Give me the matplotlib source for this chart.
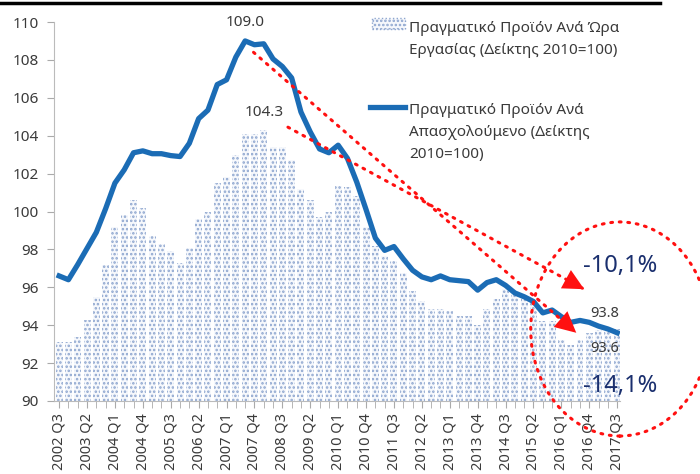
import numpy as np
import matplotlib
matplotlib.use("Agg")
import matplotlib.pyplot as plt
from matplotlib.patches import Rectangle, Ellipse
from matplotlib.lines import Line2D

plt.rcParams['font.family'] = ['Noto Sans', 'DejaVu Sans']

## quarters 2002 Q3 .. 2017 Q3
quarters = [f"{y} Q{q}" for y in range(2002, 2018) for q in range(1, 5)][2:63]

# Πραγματικό Προϊόν Ανά Ώρα Εργασίας (bars)
per_hour = [93.1, 93.1, 93.4, 94.3, 95.5, 97.2, 99.2, 99.8, 100.6, 100.2,
            98.7, 98.3, 97.9, 97.3, 98.1, 99.6, 100.0, 101.5, 101.8, 103.0,
            104.1, 104.1, 104.3, 103.4, 103.4, 102.7, 101.2, 100.6, 99.7, 100.0,
            101.35, 101.3, 100.8, 99.2, 98.2, 97.65, 97.4, 96.75, 95.8, 95.3,
            94.85, 94.85, 94.75, 94.5, 94.5, 94.0, 94.85, 95.4, 95.9, 95.7,
            95.5, 95.25, 94.2, 94.2, 93.2, 92.95, 93.2, 93.6, 93.75, 93.7, 93.8]
# Πραγματικό Προϊόν Ανά Απασχολούμενο (line)
per_employee = [96.6, 96.4, 97.2, 98.05, 98.9, 100.15, 101.5, 102.2, 103.1, 103.2,
                103.05, 103.05, 102.95, 102.9, 103.6, 104.9, 105.35, 106.7, 106.95, 108.15,
                109.0, 108.8, 108.85, 108.05, 107.65, 107.05, 105.25, 104.2, 103.3, 103.1,
                103.5, 102.8, 101.55, 100.1, 98.6, 97.95, 98.15, 97.5, 96.9, 96.55,
                96.4, 96.6, 96.4, 96.35, 96.3, 95.85, 96.25, 96.4, 96.1, 95.7,
                95.5, 95.25, 94.65, 94.8, 94.45, 94.15, 94.25, 94.15, 93.95, 93.8, 93.6]

bar_label = "Πραγματικό Προϊόν Ανά Ώρα\nΕργασίας (Δείκτης 2010=100)"
line_label = "Πραγματικό Προϊόν Ανά\nΑπασχολούμενο (Δείκτης\n2010=100)"

blue = '#1b6cb5'
dots = '#8ea6cf'
red = '#ff1010'
navy = '#1a2f6e'
txt = '#3a3a3a'

plt.rcParams['hatch.linewidth'] = 1.2

fig = plt.figure(figsize=(7, 4.74), dpi=100)
ax = fig.add_axes([54/700, 1-401/474, (620-54)/700, (401-22)/474])

x = np.arange(len(quarters))
ax.bar(x, np.array(per_hour) - 90, bottom=90, width=0.75, color='#f6f8fc',
       edgecolor=dots, hatch='....', linewidth=0)
ax.plot(x, per_employee, color=blue, lw=3.8, solid_joinstyle='round', zorder=3)

ax.set_ylim(90, 110)
ax.set_xlim(-0.55, 60.3)
ax.set_yticks(np.arange(90, 111, 2))
ax.set_xticks(x[::3])
ax.set_xticklabels(quarters[::3], rotation=90, fontsize=10.5, color=txt)
ax.set_xticks(x, minor=True)
ax.tick_params(axis='y', labelsize=11, colors='#aaaaaa', labelcolor=txt, length=5, pad=6)
ax.tick_params(axis='x', which='both', colors='#aaaaaa', labelcolor=txt, length=5, pad=4)
for s in ['top', 'right']:
    ax.spines[s].set_visible(False)
for s in ['left', 'bottom']:
    ax.spines[s].set_color('#bbbbbb')

## annotations
i_max = int(np.argmax(per_employee))
ax.text(i_max, 110.0, f"{per_employee[i_max]:.1f}", ha='center', va='center', fontsize=11, color=txt)
j_max = int(np.argmax(per_hour))
ax.text(j_max, 105.2, f"{per_hour[j_max]:.1f}", ha='center', va='center', fontsize=11, color=txt)
ax.text(58.7, 94.6, f"{per_hour[-1]:.1f}", ha='center', va='center', fontsize=10.5, color=txt, clip_on=False)
ax.text(58.7, 92.75, f"{per_employee[-1]:.1f}", ha='center', va='center', fontsize=10.5, color=txt, clip_on=False)

# dotted trend arrows: dotted stem + solid head
for (x0, y0), (x1, y1) in [((20.9, 108.4), (55.6, 93.6)), ((24.6, 104.45), (56.45, 95.9))]:
    ax.plot([x0, x1], [y0, y1], color=red, lw=2.2, linestyle=(0, (0.6, 2.2)),
            dash_capstyle='round', zorder=4, clip_on=False)
    xb, yb = x1 - 0.08 * (x1 - x0), y1 - 0.08 * (y1 - y0)
    ax.annotate('', xy=(x1, y1), xytext=(xb, yb),
                arrowprops=dict(arrowstyle='-|>,head_length=1.5,head_width=0.75', color=red,
                                lw=0, shrinkA=0, shrinkB=0), annotation_clip=False, zorder=5)
ell = Ellipse((60.3, 93.8), 19.2, 11.3, fill=False, edgecolor=red, lw=2.2,
              linestyle=(0, (0.6, 2.2)), capstyle='round', clip_on=False, zorder=4)
ax.add_patch(ell)
ax.text(60.3, 97.1, "-10,1%", ha='center', va='center', fontsize=17, color=navy, clip_on=False)
ax.text(60.3, 90.8, "-14,1%", ha='center', va='center', fontsize=17, color=navy, clip_on=False)

## legend drawn by hand
fig.add_artist(Rectangle((372/700, 1-29/474), 33/700, 11/474, transform=fig.transFigure,
                         facecolor='#f6f8fc', edgecolor=dots, hatch='....', lw=1, linestyle=':'))
fig.add_artist(Line2D([370/700, 405/700], [1-107/474, 1-107/474], transform=fig.transFigure,
                      color=blue, lw=3.8))
for k, line in enumerate(bar_label.split('\n')):
    fig.text(409/700, 1-(32+22*k)/474, line, fontsize=11, color=txt, va='baseline')
for k, line in enumerate(line_label.split('\n')):
    fig.text(409/700, 1-(114+22*k)/474, line, fontsize=11, color=txt, va='baseline')

# top rule
fig.add_artist(Line2D([0, 660/700], [1-3/474, 1-3/474], transform=fig.transFigure, color='black', lw=2.5))

fig.savefig('out.png', dpi=100)
